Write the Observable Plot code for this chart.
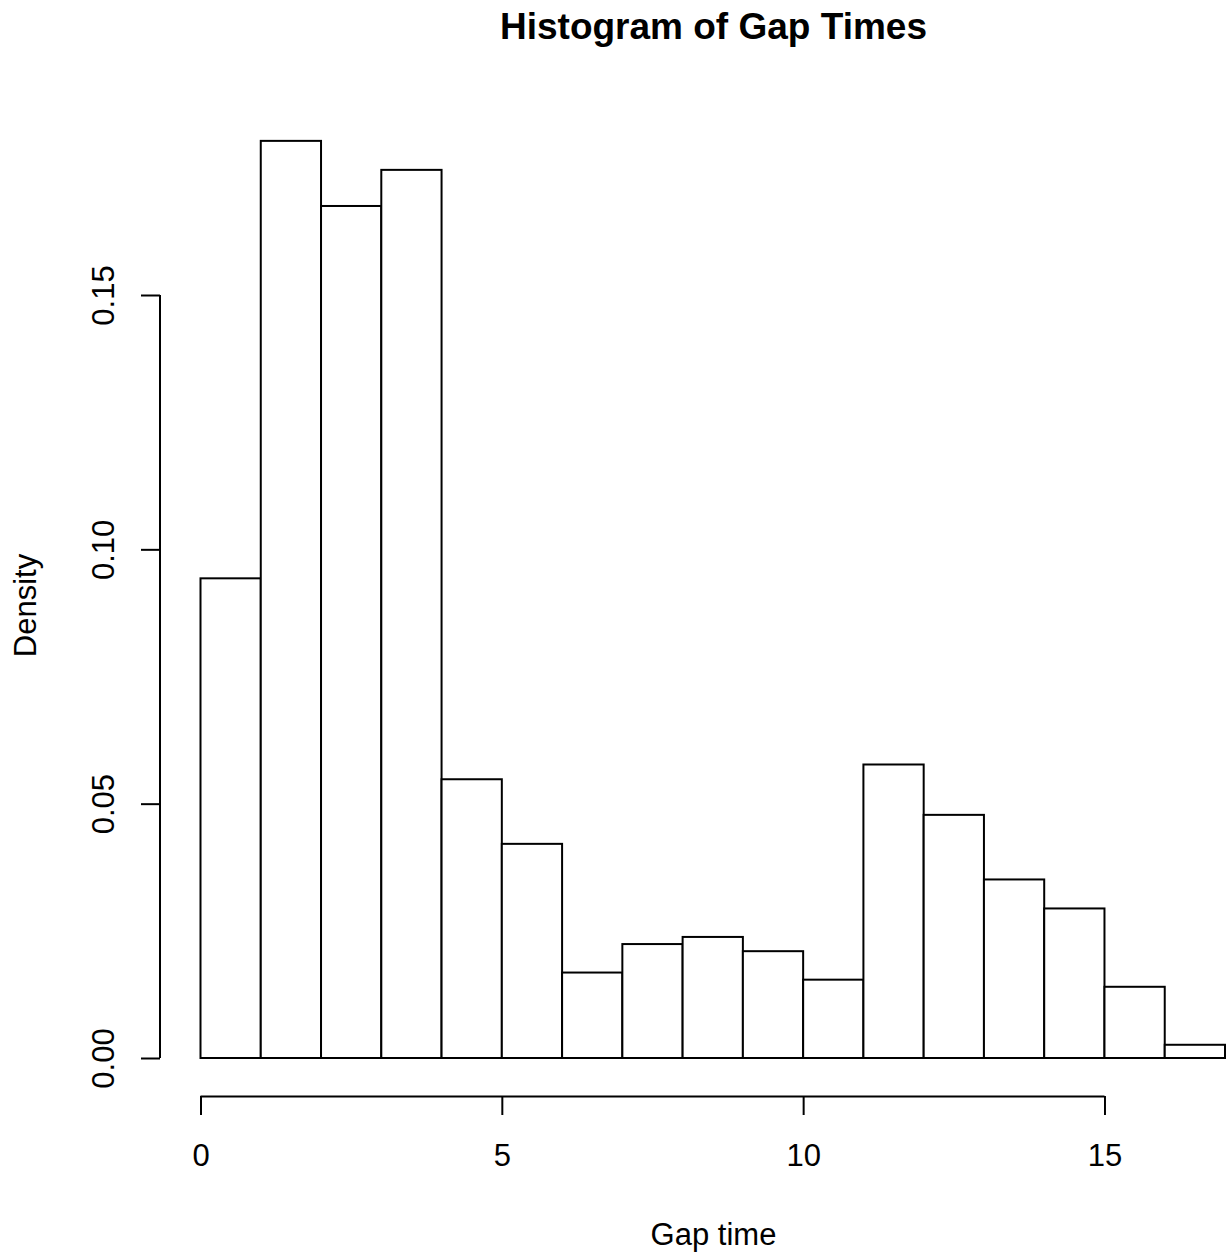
<!DOCTYPE html>
<html><head><meta charset="utf-8">
<script src="https://cdn.jsdelivr.net/npm/d3@7"></script>
<script src="https://cdn.jsdelivr.net/npm/@observablehq/plot@0.6"></script>
<style>html,body{margin:0;padding:0;background:#fff;} svg{display:block;}</style>
</head><body><div id="chart"></div>
<script>
// Histogram bins (Gap time) and densities
const binStarts = [0, 1, 2, 3, 4, 5, 6, 7, 8, 9, 10, 11, 12, 13, 14, 15, 16];
const binEnds   = [1, 2, 3, 4, 5, 6, 7, 8, 9, 10, 11, 12, 13, 14, 15, 16, 17];
const densities = [0.0943, 0.1803, 0.1675, 0.1746, 0.0548, 0.0421, 0.0168, 0.0224, 0.0238,
                   0.0210, 0.0154, 0.0577, 0.0478, 0.0351, 0.0294, 0.0140, 0.0026];
const xTicks = [0, 5, 10, 15];
const yTicks = [0, 0.05, 0.10, 0.15];
const titleText = "Histogram of Gap Times";
const xLabel = "Gap time";
const yLabel = "Density";

const bins = binStarts.map((x1, i) => ({x1, x2: binEnds[i], density: densities[i]}));
const font = "'Liberation Sans', Arial, Helvetica, sans-serif";

const chart = Plot.plot({
  width: 1231,
  height: 1254,
  marginLeft: 160,
  marginRight: 0,
  marginTop: 114,
  marginBottom: 158,
  style: {fontFamily: font, background: "white", color: "black"},
  x: {domain: [0, 17], range: [200.5, 1225]},
  y: {domain: [0, 0.15], range: [1058, 295]},
  marks: [
    Plot.rect(bins, {x1: "x1", x2: "x2", y1: 0, y2: "density", fill: "white", stroke: "black", strokeWidth: 2}),
    Plot.ruleY([0], {x1: xTicks[0], x2: xTicks[xTicks.length - 1], dy: 38, stroke: "black", strokeWidth: 2}),
    Plot.ruleX([0], {y1: yTicks[0], y2: yTicks[yTicks.length - 1], dx: -41, stroke: "black", strokeWidth: 2}),
    Plot.axisX({ticks: xTicks, tickSize: 19, tickPadding: 28, fontSize: 31, label: null, strokeWidth: 2}),
    Plot.axisY({ticks: yTicks, tickSize: 19, tickPadding: 28, tickRotate: -90, tickFormat: d3.format(".2f"), fontSize: 31, label: null, strokeWidth: 2}),
    Plot.text([titleText], {frameAnchor: "top", dx: 17.5, dy: -76, lineAnchor: "bottom", fontSize: 37, fontWeight: "bold"}),
    Plot.text([xLabel], {frameAnchor: "bottom", dx: 17.5, dy: 148, lineAnchor: "bottom", fontSize: 31}),
    Plot.text([yLabel], {frameAnchor: "left", textAnchor: "middle", dx: -125, rotate: -90, lineAnchor: "bottom", fontSize: 31})
  ]
});
document.getElementById("chart").appendChild(chart);
</script>
</body></html>
